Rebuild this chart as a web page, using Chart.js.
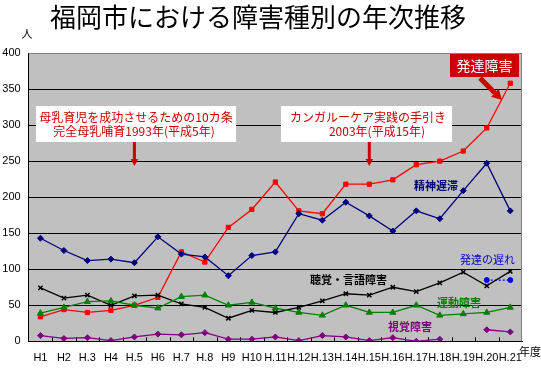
<!DOCTYPE html>
<html>
<head>
<meta charset="utf-8">
<script src="https://cdn.jsdelivr.net/npm/chart.js@4/dist/chart.umd.min.js"></script>
<style>
html,body{margin:0;padding:0;background:#fff;}
canvas{display:block;}
</style>
</head>
<body>
<canvas id="c" width="541" height="374"></canvas>
<script>
const categories = ['H1','H2','H.3','H4','H.5','H6','H.7','H.8','H9','H10','H.11','H.12','H.13','H.14','H.15','H.16','H.17','H.18','H.19','H.20','H.21'];
const hattatsuShogai = [34,44,40,43,50,61,124,110,158,183,221,181,177,218,218,224,245,250,264,296,358];
const seishinChitai = [143,126,112,114,109,145,121,117,91,119,124,177,168,193,174,153,181,170,209,247,181];
const chokakuGengo = [74,60,64,50,63,64,52,47,32,43,40,47,56,66,64,75,69,81,96,77,97];
const undoShogai = [39,47,55,56,50,46,62,64,50,54,46,40,36,50,40,40,50,36,38,40,47];
const shikakuShogai = [8,4,5,1,6,10,9,12,3,3,6,1,8,6,1,5,0,3,null,16,13];
const hattatsuOkure = [null,null,null,null,null,null,null,null,null,null,null,null,null,null,null,null,null,null,null,85,85];
const yTicks = [0,50,100,150,200,250,300,350,400];

const JP = '"Noto Sans CJK JP", "Noto Sans", sans-serif';
const LAT = '"Liberation Sans", Arial, sans-serif';

const decor = {
  id: 'decor',
  beforeDraw(chart) {
    const {ctx, chartArea: a} = chart;
    ctx.save();
    ctx.fillStyle = '#C0C0C0';
    ctx.fillRect(a.left, a.top, a.right - a.left, a.bottom - a.top);
    ctx.restore();
  },
  beforeDatasetsDraw(chart) {
    const {ctx, chartArea: a} = chart;
    ctx.save();
    ctx.strokeStyle = '#808080';
    ctx.lineWidth = 1;
    ctx.beginPath();
    ctx.moveTo(a.left, a.top + 0.5); ctx.lineTo(a.right - 0.5, a.top + 0.5); ctx.lineTo(a.right - 0.5, a.bottom);
    ctx.stroke();
    ctx.strokeStyle = '#000';
    const n = categories.length, w = (a.right - a.left) / n;
    ctx.beginPath();
    for (let i = 1; i < n; i++) {
      const x = Math.round(a.left + i * w) + 0.5;
      ctx.moveTo(x, a.bottom); ctx.lineTo(x, a.bottom - 4);
    }
    ctx.stroke();
    ctx.restore();
  },
  afterDraw(chart) {
    const {ctx} = chart;
    const xs = chart.scales.x;
    ctx.save();
    ctx.fillStyle = '#000';
    ctx.font = '26px ' + JP;
    ctx.textAlign = 'center';
    ctx.textBaseline = 'middle';
    ctx.fillText('福岡市における障害種別の年次推移', 258, 17);
    ctx.font = '11px ' + JP;
    ctx.fillText('人', 27, 34);
    ctx.textAlign = 'left';
    ctx.fillText('年度', 519, 352);

    function box(x, y, w, h, lines, cx, lineYs) {
      ctx.fillStyle = '#fff';
      ctx.fillRect(x, y, w, h);
      ctx.fillStyle = '#CC0000';
      ctx.font = '12px ' + JP;
      ctx.textAlign = 'center';
      ctx.textBaseline = 'middle';
      lines.forEach((t, i) => ctx.fillText(t, cx[i], lineYs[i]));
    }
    function arrow(x1, y1, x2, y2, width, head, color) {
      const ang = Math.atan2(y2 - y1, x2 - x1);
      const bx = x2 - head * Math.cos(ang), by = y2 - head * Math.sin(ang);
      ctx.strokeStyle = color; ctx.fillStyle = color;
      ctx.lineWidth = width;
      ctx.beginPath(); ctx.moveTo(x1, y1); ctx.lineTo(bx, by); ctx.stroke();
      const px = -Math.sin(ang), py = Math.cos(ang);
      const hw = head * 0.55;
      ctx.beginPath();
      ctx.moveTo(x2, y2);
      ctx.lineTo(bx + px * hw, by + py * hw);
      ctx.lineTo(bx - px * hw, by - py * hw);
      ctx.closePath(); ctx.fill();
    }
    box(36, 106, 200, 36, ['母乳育児を成功させるための10カ条', '完全母乳哺育1993年(平成5年)'], [136, 134], [117, 131]);
    const ax1 = xs.getPixelForValue(4);
    arrow(ax1, 142, ax1, 166, 3, 7, '#CC0000');
    box(281, 106, 171, 36, ['カンガルーケア実践の手引き', '2003年(平成15年)'], [368, 377], [117, 131]);
    const ax2 = xs.getPixelForValue(14);
    arrow(ax2, 142, ax2, 166, 3, 7, '#CC0000');

    ctx.fillStyle = '#CC0000';
    ctx.fillRect(450, 54, 69, 23);
    ctx.fillStyle = '#fff';
    ctx.font = '14px ' + JP;
    ctx.textAlign = 'center';
    ctx.fillText('発達障害', 484.5, 66);
    arrow(480, 78, 502, 100, 5, 10, '#CC0000');

    function lab(t, x, y, color, bold) {
      ctx.fillStyle = color;
      ctx.font = (bold ? 'bold ' : '') + '11px ' + JP;
      ctx.textAlign = 'left';
      ctx.textBaseline = 'middle';
      ctx.fillText(t, x, y);
    }
    lab('精神遅滞', 414, 186, '#000080', true);
    lab('発達の遅れ', 460, 260, '#0000CC', false);
    lab('聴覚・言語障害', 310, 280, '#000000', true);
    lab('運動障害', 437, 303, '#008000', true);
    lab('視覚障害', 388, 327, '#800080', true);
    ctx.restore();
  }
};

function ds(label, data, color, style, r, extra) {
  return Object.assign({
    label, data,
    borderColor: color, backgroundColor: color,
    pointBackgroundColor: color, pointBorderColor: color,
    pointStyle: style, pointRadius: r, pointHoverRadius: r,
    borderWidth: 1.3, pointBorderWidth: 1,
    tension: 0, spanGaps: false
  }, extra || {});
}

new Chart(document.getElementById('c'), {
  type: 'line',
  data: {
    labels: categories,
    datasets: [
      ds('視覚障害', shikakuShogai, '#800080', 'rectRot', 3),
      ds('運動障害', undoShogai, '#008000', 'triangle', 3.5),
      ds('聴覚・言語障害', chokakuGengo, '#000000', 'crossRot', 3, {pointBorderWidth: 1.5}),
      ds('発達の遅れ', hattatsuOkure, '#0000FF', 'circle', 2.5, {borderDash: [2, 2]}),
      ds('精神遅滞', seishinChitai, '#000080', 'rectRot', 3),
      ds('発達障害', hattatsuShogai, '#FF0000', 'rect', 3)
    ]
  },
  options: {
    responsive: false,
    animation: false,
    devicePixelRatio: 1,
    layout: {padding: {top: 53, right: 19, left: 0, bottom: 0}},
    plugins: {legend: {display: false}, tooltip: {enabled: false}, title: {display: false}},
    scales: {
      x: {
        offset: true,
        grid: {display: true, drawOnChartArea: false, drawTicks: false},
        border: {display: true, color: '#000', width: 1},
        ticks: {color: '#000', font: {family: LAT, size: 11}, padding: 10, maxRotation: 0, autoSkip: false},
        afterFit(s) { s.height = 32.7; }
      },
      y: {
        min: 0, max: 400,
        afterBuildTicks(s) { s.ticks = yTicks.map(v => ({value: v})); },
        grid: {color: '#000', lineWidth: 1, drawTicks: false},
        border: {display: true, color: '#000', width: 1},
        ticks: {color: '#000', font: {family: LAT, size: 11}, padding: 8},
        afterFit(s) { s.width = 28.7; }
      }
    }
  },
  plugins: [decor]
});
</script>
</body>
</html>
